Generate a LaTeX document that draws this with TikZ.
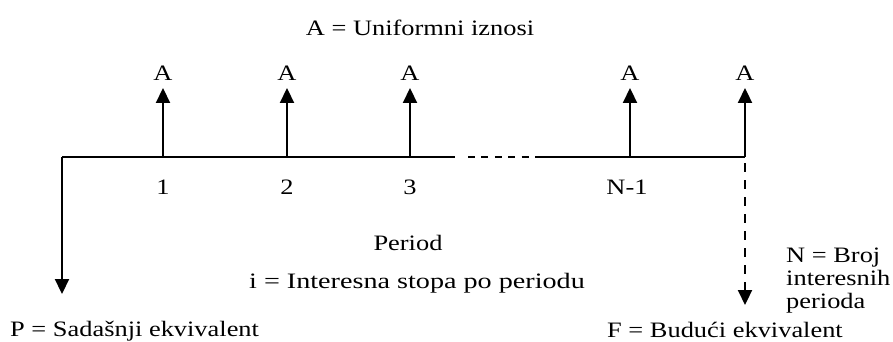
\documentclass[tikz,border=0pt]{standalone}
\usepackage{fontspec}
\setmainfont{Liberation Serif}[FakeStretch=1.2]
\usetikzlibrary{arrows.meta}
\begin{document}
\begin{tikzpicture}[x=1pt,y=-1pt,
  line/.style={line width=1.8pt},
  tip/.style={-{Triangle[length=15pt,width=14pt]}},
  up/.style={line width=2.2pt,tip},
  lbl/.style={font=\fontsize{22}{23}\selectfont,inner sep=0pt},
  dotted seg/.style={line width=1.4pt,dash pattern=on 7pt off 6.4pt}]
\useasboundingbox (0,0) rectangle (893,342);
% timeline points
\coordinate (t0) at (62,157);
\coordinate (t1) at (163,157);
\coordinate (t2) at (287,157);
\coordinate (t3) at (410,157);
\coordinate (d0) at (455,157);
\coordinate (d1) at (468,157);
\coordinate (d2) at (535,157);
\coordinate (t4) at (630,157);
\coordinate (t5) at (745,157);
\coordinate (a1) at (163,88);
\coordinate (a2) at (287,88);
\coordinate (a3) at (410,88);
\coordinate (a4) at (630,88);
\coordinate (a5) at (745,88);
\coordinate (pend) at (62,294);
\coordinate (fend) at (745,305);
% timeline
\draw[line] (t0) -- (d0);
\draw[dotted seg] (d1) -- (d2);
\draw[line] (d2) -- (t5);
% uniform payments
\foreach \i in {1,...,5} \draw[up] (t\i) -- (a\i);
% P and F
\draw[up] (t0) -- (pend);
\draw[line width=2.2pt,dash pattern=on 9pt off 8pt,dash phase=11pt,tip] (t5) -- (fend);
% labels
\node[lbl] (title) at (420,28) {A = Uniformni iznosi};
\foreach \i in {1,...,5} \node[lbl,anchor=base] (A\i) at ([yshift=7pt]a\i) {A};
\node[lbl] (n1) at (163,187) {1};
\node[lbl] (n2) at (287,187) {2};
\node[lbl] (n3) at (410,187) {3};
\node[lbl] (n4) at (627,187) {N-1};
\node[lbl] (per) at (408,243) {Period};
\node[lbl] (rate) at (417,283) {\addfontfeature{FakeStretch=1.28}i = Interesna stopa po periodu};
\node[lbl,anchor=west] (P) at (10,331) {P = Sadašnji ekvivalent};
\node[lbl,anchor=west] (F) at (607,330) {F = Budući ekvivalent};
\node[lbl,anchor=west,align=left] (N) at (786,281) {N = Broj\\interesnih\\perioda};
\end{tikzpicture}
\end{document}
